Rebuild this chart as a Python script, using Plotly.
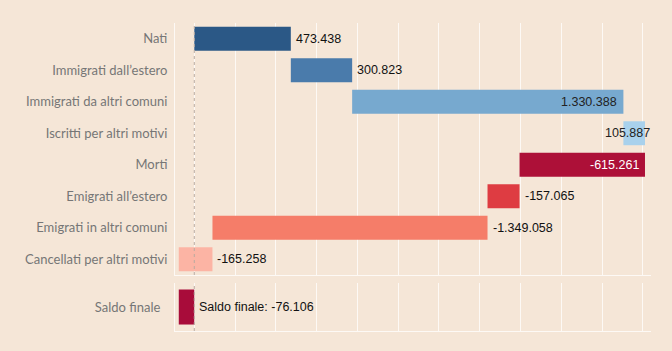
import plotly.graph_objects as go

categories = ["Nati", "Immigrati dall’estero", "Immigrati da altri comuni",
              "Iscritti per altri motivi", "Morti", "Emigrati all’estero",
              "Emigrati in altri comuni", "Cancellati per altri motivi"]
values = [473438, 300823, 1330388, 105887, -615261, -157065, -1349058, -165258]
final_label = "Saldo finale"
final_value = -76106

colors = ["#2b5886", "#4a7bab", "#77a9cf", "#a9d1ec", "#ad1038",
          "#de3c42", "#f57d69", "#fcb4a4"]
final_color = "#a80c3a"
label_inside = [False, False, True, True, True, False, False, False]
label_color = ["#111", "#111", "#222", "#222", "#ffffff", "#111", "#111", "#111"]
label_shift = [3, 3, -4, 7, -4, 3, 3, 3]

BG = "#f5e6d7"
GRID = "rgba(255,255,255,0.75)"


def fmt(v):
    return f"{v:,}".replace(",", ".")


starts, ends = [], []
acc = 0
for v in values:
    starts.append(acc)
    acc += v
    ends.append(acc)
bases = [min(s, e) for s, e in zip(starts, ends)]
lengths = [abs(v) for v in values]
rights = [max(s, e) for s, e in zip(starts, ends)]

fig = go.Figure()
fig.add_trace(go.Bar(
    y=categories, x=lengths, base=bases, orientation="h",
    marker=dict(color=colors, line=dict(width=0)), width=0.76,
    xaxis="x", yaxis="y", hoverinfo="skip", showlegend=False))
fig.add_trace(go.Bar(
    y=[final_label], x=[abs(final_value)], base=[min(0, final_value)],
    orientation="h", marker=dict(color=final_color, line=dict(width=0)),
    width=0.73, xaxis="x2", yaxis="y2", hoverinfo="skip", showlegend=False))

annotations = []
for cat, v, r, ins, col, sh in zip(categories, values, rights, label_inside,
                                  label_color, label_shift):
    annotations.append(dict(
        x=r, y=cat, xref="x", yref="y", text=fmt(v), showarrow=False,
        xanchor="right" if ins else "left", xshift=sh,
        font=dict(family="Liberation Sans, Arial", size=12.5, color=col)))
annotations.append(dict(
    x=max(0, final_value), y=final_label, xref="x2", yref="y2",
    text=f"{final_label}: {fmt(final_value)}", showarrow=False,
    xanchor="left", xshift=3,
    font=dict(family="Liberation Sans, Arial", size=12.5, color="#111")))

xr = [-94600, 2240000]
common_x = dict(range=xr, showgrid=True, gridcolor=GRID, gridwidth=1,
                dtick=200000, tick0=0, zeroline=False, showticklabels=False,
                ticks="", showline=True, linecolor=GRID, linewidth=1)
common_y = dict(type="category", autorange="reversed", showgrid=False,
                zeroline=False, ticks="", showline=True, linecolor=GRID,
                linewidth=1,
                tickfont=dict(family="Lato, Noto Sans", size=13, color="#767676"))

fig.update_layout(
    width=672, height=351, paper_bgcolor=BG, plot_bgcolor=BG,
    margin=dict(l=175, r=21, t=23, b=20),
    xaxis=dict(**common_x, anchor="y"),
    xaxis2=dict(**common_x, anchor="y2", matches="x"),
    yaxis=dict(**common_y, domain=[0.1818, 1], anchor="x", ticklabelstandoff=4),
    yaxis2=dict(**common_y, domain=[0, 0.1558], anchor="x2", ticklabelstandoff=11),
    annotations=annotations,
    shapes=[
        dict(type="line", xref="x", yref="y domain", x0=0, x1=0, y0=0, y1=1,
             line=dict(color="#b8aaa0", width=1, dash="dot")),
        dict(type="line", xref="x2", yref="y2 domain", x0=0, x1=0, y0=0, y1=1,
             line=dict(color="#b8aaa0", width=1, dash="dot")),
    ],
)

fig.write_html("out.html")
